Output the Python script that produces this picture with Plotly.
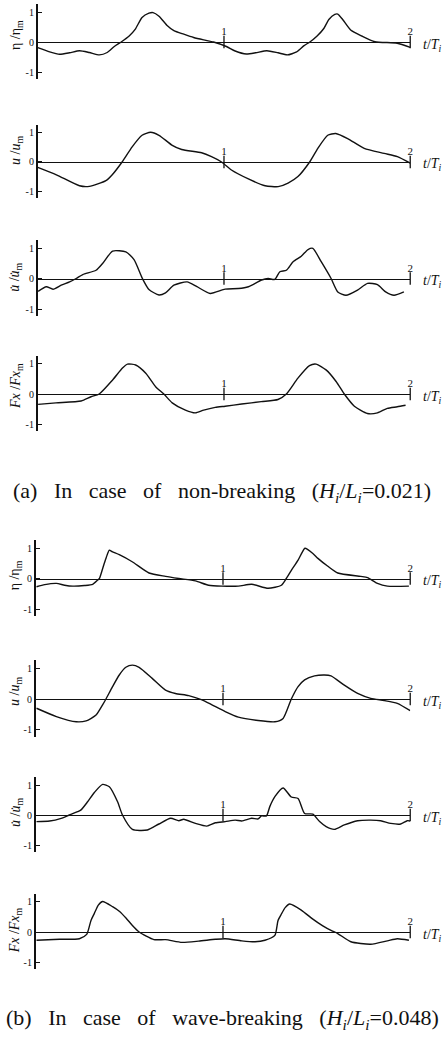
import plotly.graph_objects as go

W, H = 447, 1052
SERIF = "Liberation Serif, Times New Roman, serif"
INK = "#111111"

# ---- (a) non-breaking, H_i/L_i = 0.021 ----
T_ETA_A = [0.000, 0.064, 0.117, 0.171, 0.224, 0.277, 0.331, 0.373, 0.411, 0.448,
           0.491, 0.523, 0.560, 0.597, 0.619, 0.651, 0.693, 0.731, 0.784, 0.837,
           0.891, 0.944, 1.013, 1.060, 1.120, 1.170, 1.230, 1.290, 1.340, 1.390,
           1.430, 1.461, 1.500, 1.536, 1.563, 1.595, 1.611, 1.637, 1.680, 1.740,
           1.810, 1.930, 2.000]
ETA_A = [-0.19, -0.33, -0.41, -0.36, -0.29, -0.35, -0.43, -0.35, -0.15, 0.00,
         0.20, 0.42, 0.82, 0.96, 0.98, 0.86, 0.56, 0.38, 0.26, 0.15,
         0.07, 0.00, -0.15, -0.30, -0.40, -0.36, -0.29, -0.36, -0.43, -0.33,
         -0.12, 0.00, 0.20, 0.45, 0.75, 0.92, 0.93, 0.75, 0.40, 0.20,
         0.01, -0.04, -0.18]

T_U_A = [0.000, 0.100, 0.224, 0.277, 0.366, 0.400, 0.453, 0.507, 0.560, 0.606,
         0.651, 0.720, 0.773, 0.880, 0.933, 0.987, 1.040, 1.131, 1.221, 1.291,
         1.344, 1.397, 1.460, 1.504, 1.557, 1.600, 1.664, 1.753, 1.860, 1.931,
         2.000]
U_A = [-0.18, -0.43, -0.80, -0.82, -0.63, -0.43, 0.00, 0.51, 0.90, 1.00,
       0.90, 0.57, 0.42, 0.31, 0.18, 0.00, -0.27, -0.57, -0.80, -0.83,
       -0.71, -0.49, 0.00, 0.46, 0.90, 0.96, 0.79, 0.46, 0.29, 0.18,
       -0.04]

T_DU_A = [0.002, 0.046, 0.082, 0.126, 0.171, 0.206, 0.242, 0.313, 0.348, 0.402,
          0.473, 0.517, 0.562, 0.597, 0.651, 0.686, 0.731, 0.802, 0.855, 0.926,
          1.006, 1.077, 1.131, 1.202, 1.237, 1.273, 1.300, 1.335, 1.371, 1.415,
          1.451, 1.477, 1.522, 1.575, 1.611, 1.655, 1.717, 1.771, 1.824, 1.868,
          1.913, 1.966]
DU_A = [-0.42, -0.27, -0.35, -0.22, -0.11, 0.00, 0.13, 0.27, 0.49, 0.90,
        0.87, 0.62, 0.00, -0.36, -0.54, -0.47, -0.22, -0.11, -0.27, -0.49,
        -0.35, -0.33, -0.27, -0.05, 0.00, -0.03, 0.22, 0.27, 0.55, 0.73,
        0.95, 0.99, 0.55, 0.00, -0.44, -0.55, -0.38, -0.16, -0.20, -0.44,
        -0.55, -0.44]

T_FX_A = [0.002, 0.098, 0.233, 0.286, 0.330, 0.402, 0.455, 0.482, 0.526, 0.580,
          0.633, 0.677, 0.722, 0.793, 0.846, 0.891, 0.953, 1.006, 1.095, 1.200,
          1.290, 1.335, 1.397, 1.459, 1.495, 1.548, 1.602, 1.646, 1.700, 1.770,
          1.824, 1.877, 1.930, 1.975]
FX_A = [-0.34, -0.29, -0.23, -0.09, 0.00, 0.46, 0.85, 0.98, 0.95, 0.68,
        0.24, 0.00, -0.29, -0.53, -0.62, -0.53, -0.44, -0.40, -0.33, -0.25,
        -0.18, 0.00, 0.52, 0.93, 0.98, 0.79, 0.41, 0.00, -0.40, -0.64,
        -0.62, -0.47, -0.42, -0.37]

# ---- (b) wave-breaking, H_i/L_i = 0.048 ----
T_ETA_B = [0.004, 0.048, 0.110, 0.154, 0.198, 0.260, 0.304, 0.331, 0.340, 0.361,
           0.377, 0.393, 0.408, 0.446, 0.515, 0.605, 0.693, 0.764, 0.853, 0.923,
           0.994, 1.082, 1.153, 1.241, 1.312, 1.338, 1.365, 1.401, 1.422, 1.438,
           1.480, 1.507, 1.560, 1.613, 1.736, 1.772, 1.825, 1.878, 1.993]
ETA_B = [-0.27, -0.20, -0.16, -0.22, -0.25, -0.23, -0.19, -0.05, 0.00, 0.40,
         0.70, 0.93, 0.88, 0.78, 0.55, 0.18, 0.07, 0.00, -0.08, -0.22,
         -0.25, -0.25, -0.19, -0.32, -0.22, 0.00, 0.27, 0.60, 0.85, 0.99,
         0.82, 0.66, 0.40, 0.18, 0.07, 0.03, -0.16, -0.25, -0.25]

T_U_B = [0.004, 0.110, 0.216, 0.269, 0.322, 0.357, 0.375, 0.410, 0.446, 0.481,
         0.516, 0.552, 0.622, 0.693, 0.746, 0.817, 0.888, 0.941, 1.012, 1.082,
         1.188, 1.277, 1.321, 1.365, 1.401, 1.436, 1.489, 1.542, 1.577, 1.648,
         1.719, 1.789, 1.861, 1.931, 2.000]
U_B = [-0.30, -0.57, -0.74, -0.71, -0.52, -0.19, 0.00, 0.40, 0.78, 1.03,
       1.10, 1.03, 0.67, 0.29, 0.18, 0.11, -0.03, -0.19, -0.41, -0.59,
       -0.70, -0.74, -0.63, 0.00, 0.40, 0.62, 0.75, 0.78, 0.75, 0.45,
       0.18, 0.02, -0.05, -0.14, -0.38]

T_DU_B = [0.004, 0.074, 0.136, 0.180, 0.224, 0.242, 0.277, 0.313, 0.357, 0.393,
          0.437, 0.463, 0.516, 0.596, 0.658, 0.720, 0.764, 0.790, 0.853, 0.914,
          0.959, 1.012, 1.065, 1.100, 1.153, 1.188, 1.206, 1.232, 1.250, 1.277,
          1.321, 1.365, 1.401, 1.436, 1.480, 1.516, 1.551, 1.595, 1.648, 1.719,
          1.789, 1.842, 1.896, 1.949, 1.984, 2.000]
DU_B = [-0.22, -0.20, -0.11, 0.00, 0.11, 0.17, 0.44, 0.75, 1.02, 0.94,
        0.44, 0.00, -0.48, -0.50, -0.30, -0.11, -0.19, -0.14, -0.28, -0.37,
        -0.26, -0.22, -0.17, -0.20, -0.11, -0.13, -0.03, -0.03, 0.28, 0.61,
        0.90, 0.60, 0.55, 0.05, 0.03, -0.22, -0.39, -0.48, -0.33, -0.19,
        -0.17, -0.19, -0.28, -0.30, -0.19, -0.20]

T_FX_B = [0.004, 0.127, 0.233, 0.272, 0.295, 0.313, 0.334, 0.357, 0.410, 0.446,
          0.483, 0.515, 0.552, 0.631, 0.693, 0.781, 0.870, 0.959, 1.012, 1.100,
          1.171, 1.224, 1.277, 1.294, 1.312, 1.332, 1.356, 1.418, 1.480, 1.533,
          1.577, 1.613, 1.683, 1.789, 1.878, 1.931, 1.993]
FX_B = [-0.27, -0.24, -0.22, -0.08, 0.38, 0.61, 0.88, 1.00, 0.83, 0.68,
        0.45, 0.22, 0.00, -0.25, -0.25, -0.34, -0.30, -0.24, -0.22, -0.29,
        -0.32, -0.27, -0.11, 0.38, 0.59, 0.80, 0.92, 0.72, 0.42, 0.20,
        0.05, -0.05, -0.32, -0.40, -0.29, -0.22, -0.27]

X_TICKS = [1, 2]
Y_TICKS = [-1, 0, 1]
Y_RANGE = [-1.22, 1.26]

ETA_LBL = "η /η<sub>m</sub>"
U_LBL = "<i>u</i> /<i>u</i><sub>m</sub>"
DU_LBL = "<i>u\u0307</i> /<i>u\u0307</i><sub>m</sub>"
FX_LBL = "<i>Fx</i> /<i>Fx</i><sub>m</sub>"

# panel geometry in pixels: zero-line row, pixels per unit, t=0 and t=2 columns
panels = [
    (T_ETA_A, ETA_A, ETA_LBL, 42.0, 30.0, 38, 413, 0.23),
    (T_U_A, U_A, U_LBL, 162.0, 29.7, 38, 413, 0.40),
    (T_DU_A, DU_A, DU_LBL, 278.5, 30.5, 38, 413, 0.05),
    (T_FX_A, FX_A, FX_LBL, 394.0, 30.5, 38, 413, 0.26),
    (T_ETA_B, ETA_B, ETA_LBL, 578.5, 30.5, 36, 413, 0.10),
    (T_U_B, U_B, U_LBL, 699.0, 30.8, 36, 413, 0.26),
    (T_DU_B, DU_B, DU_LBL, 815.0, 30.0, 36, 413, 0.10),
    (T_FX_B, FX_B, FX_LBL, 932.0, 30.5, 36, 413, 0.05),
]

fig = go.Figure()
layout = {}
annotations = []

for i, (t, v, lbl, zero_px, scale, x0, x1, lbl_y) in enumerate(panels, start=1):
    sfx = "" if i == 1 else str(i)
    xa, ya = "x" + sfx, "y" + sfx

    fig.add_trace(go.Scatter(
        x=t, y=v, mode="lines", xaxis=xa, yaxis=ya,
        line=dict(color=INK, width=1.4, shape="spline", smoothing=0.6),
        hoverinfo="skip", showlegend=False))
    # crossing tick marks on the time axis
    fig.add_trace(go.Scatter(
        x=X_TICKS, y=[0] * len(X_TICKS), mode="markers", xaxis=xa, yaxis=ya,
        marker=dict(symbol="line-ns", size=9, color=INK,
                    line=dict(color=INK, width=1.3)),
        cliponaxis=False, hoverinfo="skip", showlegend=False))

    top_px = zero_px - Y_RANGE[1] * scale
    bot_px = zero_px - Y_RANGE[0] * scale
    layout["xaxis" + sfx] = dict(
        domain=[x0 / W, x1 / W], range=[0, 2], anchor="free",
        position=1 - zero_px / H, side="top",
        showline=True, linecolor=INK, linewidth=1.3,
        tickvals=X_TICKS, ticktext=[str(k) for k in X_TICKS], ticks="",
        ticklabelstandoff=2,
        tickfont=dict(family=SERIF, size=11, color=INK),
        showgrid=False, zeroline=False, fixedrange=True)
    layout["yaxis" + sfx] = dict(
        domain=[1 - bot_px / H, 1 - top_px / H], range=Y_RANGE, anchor=xa,
        showline=True, linecolor=INK, linewidth=1.6,
        ticks="inside", ticklen=4, tickwidth=1.3, tickcolor=INK,
        tickvals=Y_TICKS, ticktext=["-1", "0", "1"],
        tickfont=dict(family=SERIF, size=10, color=INK),
        showgrid=False, zeroline=False, fixedrange=True)

    annotations.append(dict(
        text=lbl, x=16 / W, xref="paper", y=lbl_y, yref=ya,
        textangle=-90, showarrow=False, xanchor="center", yanchor="middle",
        font=dict(family=SERIF, size=14, color=INK)))
    annotations.append(dict(
        text="<i>t</i>/<i>T<sub>i</sub></i>", x=424 / W, xref="paper",
        y=-0.1, yref=ya, showarrow=False, xanchor="left", yanchor="middle",
        font=dict(family=SERIF, size=14, color=INK)))

CAPTIONS = [
    ("(a) In case of non-breaking (<i>H<sub>i</sub></i>/<i>L<sub>i</sub></i>=0.021)", 492),
    ("(b) In case of wave-breaking (<i>H<sub>i</sub></i>/<i>L<sub>i</sub></i>=0.048)", 1019),
]
for text, y_px in CAPTIONS:
    annotations.append(dict(
        text=text.replace(" ", "\u00a0\u00a0\u00a0"), x=0.5, xref="paper",
        y=1 - y_px / H, yref="paper", showarrow=False,
        xanchor="center", yanchor="middle",
        font=dict(family=SERIF, size=22, color=INK)))

fig.update_layout(
    width=W, height=H, margin=dict(l=0, r=0, t=0, b=0),
    paper_bgcolor="white", plot_bgcolor="white",
    annotations=annotations, showlegend=False, **layout)

fig.write_html("out.html")
